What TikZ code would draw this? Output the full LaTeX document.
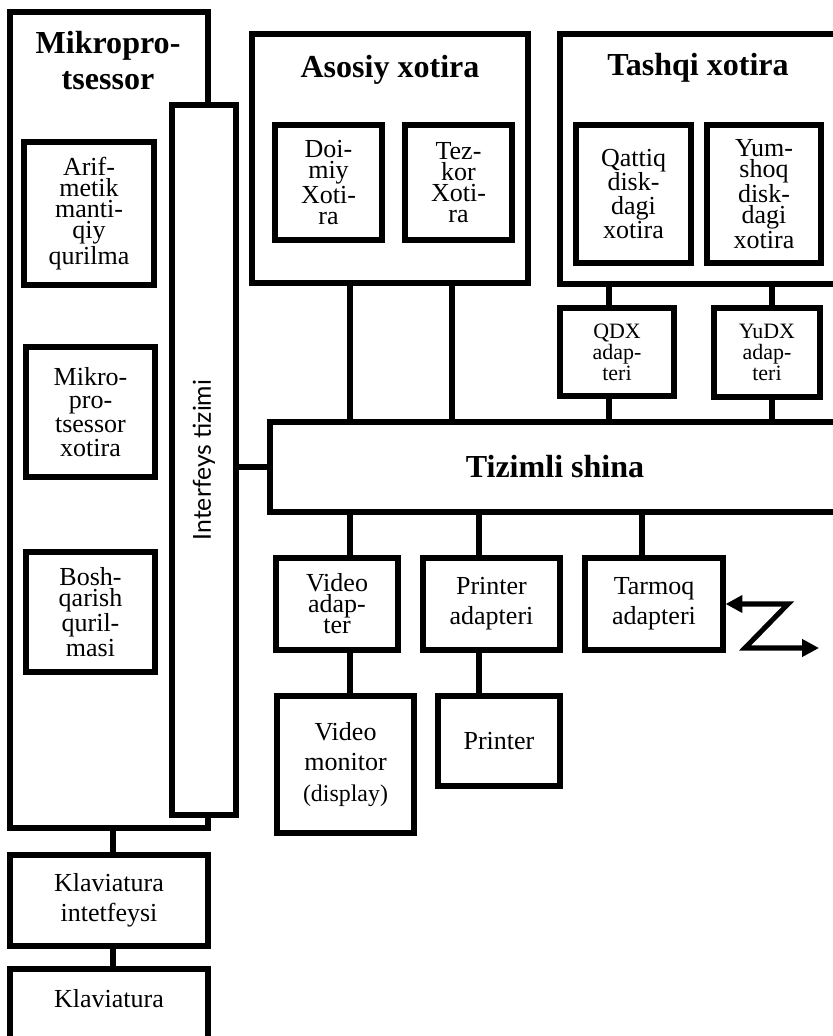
\documentclass[tikz,border=0pt]{standalone}
\usepackage{fontspec}
\setmainfont{Liberation Serif}
\newfontfamily\labelsans{Lato}
\usepackage{tikz}
\usetikzlibrary{positioning,calc,arrows.meta}
\tikzset{
    unitBox/.style={
        draw=black,
        fill=white,
        line width=3.6pt,
        align=center,
        inner sep=1pt,
        font=\fontsize{18.5}{21.5}\selectfont
    },
    tightBox/.style={unitBox, font=\fontsize{18.5}{15}\selectfont},
    smallBox/.style={unitBox, font=\fontsize{15.6}{15}\selectfont},
    groupBox/.style={draw=black, fill=white, line width=3.6pt},
    titleText/.style={font=\fontsize{22.8}{25.6}\selectfont\bfseries, align=center},
    link/.style={line width=3.6pt},
}

\begin{document}
\begin{tikzpicture}[
    netarrow/.style={link, {Triangle[length=12pt,width=12pt]}-{Triangle[length=12pt,width=12pt]}}
]
    \useasboundingbox (0,0) rectangle (20.8,-25.9);

    % Mikroprotsessor and interface bar
    \node[groupBox, minimum width=4.95cm, minimum height=20.4cm] (mikro) at (2.725,-10.5) {};
    \node[titleText] (mikroTitle) at (2.7,-1.525) {Mikropro-\\tsessor};
    \node[unitBox, rotate=90, minimum width=17.75cm, minimum height=1.6cm, font=\labelsans\fontsize{17.6}{20}\selectfont] (iface) at (5.1,-11.5) {Interfeys tizimi};
    \node[tightBox, minimum width=3.25cm, minimum height=3.575cm] (alu) at (2.225,-5.3375) {Arif-\\metik\\manti-\\qiy\\qurilma};
    \node[tightBox, minimum width=3.225cm, minimum height=3.25cm, font=\fontsize{18.5}{17}\selectfont] (mpx) at (2.2625,-10.3) {Mikro-\\pro-\\tsessor\\xotira};
    \node[tightBox, minimum width=3.225cm, minimum height=3cm] (cu) at (2.2625,-15.3) {Bosh-\\qarish\\quril-\\masi};

    % Asosiy xotira
    \node[groupBox, minimum width=6.9cm, minimum height=6.225cm] (asosiy) at (9.75,-3.9625) {};
    \node[titleText] (asosiyTitle) at (9.75,-1.75) {Asosiy xotira};
    \node[tightBox, minimum width=2.675cm, minimum height=2.875cm] (doimiy) at (8.2125,-4.5625) {Doi-\\miy\\Xoti-\\ra};
    \node[tightBox, minimum width=2.675cm, minimum height=2.875cm] (tezkor) at (11.4625,-4.5625) {Tez-\\kor\\Xoti-\\ra};

    % Tashqi xotira
    \node[groupBox, minimum width=6.95cm, minimum height=6.25cm] (tashqi) at (17.475,-3.975) {};
    \node[titleText] (tashqiTitle) at (17.45,-1.7) {Tashqi xotira};
    \node[tightBox, minimum width=2.875cm, minimum height=3.45cm, font=\fontsize{18.5}{17}\selectfont] (qattiq) at (15.8375,-4.85) {Qattiq\\disk-\\dagi\\xotira};
    \node[tightBox, minimum width=2.85cm, minimum height=3.45cm] (yumshoq) at (19.1,-4.85) {Yum-\\shoq\\disk-\\dagi\\xotira};
    \node[smallBox, minimum width=2.85cm, minimum height=2.2cm] (qdx) at (15.425,-8.8) {QDX\\adap-\\teri};
    \node[smallBox, minimum width=2.65cm, minimum height=2.225cm] (yudx) at (19.175,-8.8125) {YuDX\\adap-\\teri};

    % System bus
    \node[unitBox, minimum width=14.25cm, minimum height=2.25cm, font=\fontsize{22.8}{25.6}\selectfont\bfseries] (bus) at (13.875,-11.675) {Tizimli shina};

    % Adapters and devices
    \node[tightBox, minimum width=3.05cm, minimum height=2.3cm] (vadapt) at (8.425,-15.1) {Video\\adap-\\ter};
    \node[unitBox, minimum width=3.425cm, minimum height=2.3cm] (padapt) at (12.2875,-15.1) {Printer\\adapteri};
    \node[unitBox, minimum width=3.45cm, minimum height=2.3cm] (tadapt) at (16.35,-15.1) {Tarmoq\\adapteri};
    \node[unitBox, minimum width=3.425cm, minimum height=3.425cm] (monitor) at (8.6375,-19.1125) {Video\\monitor\\{\fontsize{17}{20}\selectfont(display)}};
    \node[unitBox, minimum width=3.05cm, minimum height=2.25cm] (printer) at (12.475,-18.525) {Printer};

    % Keyboard
    \node[unitBox, minimum width=4.95cm, minimum height=2.275cm] (kbdif) at (2.725,-22.5125) {Klaviatura\\intetfeysi};
    \node[unitBox, minimum width=4.95cm, minimum height=1.9cm, text depth=0.45cm] (kbd) at (2.725,-25.175) {Klaviatura};

    % Connections
    \draw[link] ([xshift=-1cm]asosiy.south) -- ([xshift=-1cm]asosiy.south |- bus.north);
    \draw[link] ([xshift=1.55cm]asosiy.south) -- ([xshift=1.55cm]asosiy.south |- bus.north);
    \draw[link] ([xshift=-0.2cm]qdx.north) -- ([xshift=-0.2cm]qdx.north |- tashqi.south);
    \draw[link] ([xshift=-0.2cm]qdx.south) -- ([xshift=-0.2cm]qdx.south |- bus.north);
    \draw[link] ([xshift=0.125cm]yudx.north) -- ([xshift=0.125cm]yudx.north |- tashqi.south);
    \draw[link] ([xshift=0.125cm]yudx.south) -- ([xshift=0.125cm]yudx.south |- bus.north);
    \draw[link] (bus.west) -- (bus.west -| iface.south);
    \draw[link] ([xshift=0.325cm]vadapt.north) -- ([xshift=0.325cm]vadapt.north |- bus.south);
    \draw[link] ([xshift=0.325cm]vadapt.south) -- ([xshift=0.325cm]vadapt.south |- monitor.north);
    \draw[link] ([xshift=-0.3125cm]padapt.north) -- ([xshift=-0.3125cm]padapt.north |- bus.south);
    \draw[link] ([xshift=-0.3125cm]padapt.south) -- ([xshift=-0.3125cm]padapt.south |- printer.north);
    \draw[link] ([xshift=-0.3cm]tadapt.north) -- ([xshift=-0.3cm]tadapt.north |- bus.south);
    \draw[link] ([xshift=0.1cm]mikro.south) -- ([xshift=0.1cm]mikro.south |- kbdif.north);
    \draw[link] ([xshift=0.1cm]kbdif.south) -- ([xshift=0.1cm]kbdif.south |- kbd.north);

    % Network link
    \coordinate (zTop) at (19.7,-15.1);
    \coordinate (zBend) at (18.625,-16.2);
    \coordinate (zEnd) at (20.475,-16.2);
    \draw[netarrow] (tadapt.east) -- (zTop) -- (zBend) -- (zEnd);
\end{tikzpicture}
\end{document}
